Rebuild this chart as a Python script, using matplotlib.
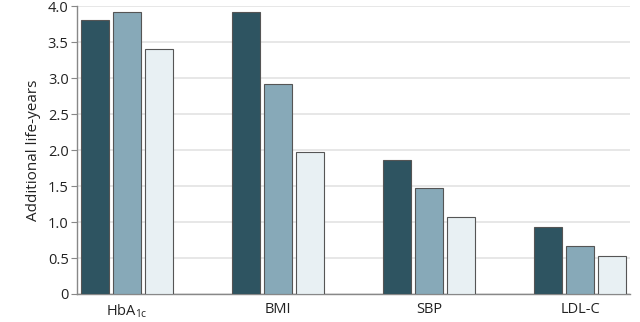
import numpy as np
import matplotlib
matplotlib.use("Agg")
import matplotlib.pyplot as plt

plt.rcParams['font.family'] = ['Open Sans', 'DejaVu Sans']
plt.rcParams['mathtext.fontset'] = 'custom'
plt.rcParams['mathtext.rm'] = 'Open Sans'

categories = ["HbA$_{1\\mathrm{c}}$", "BMI", "SBP", "LDL-C"]
series1 = [3.81, 3.92, 1.86, 0.93]
series2 = [3.92, 2.92, 1.47, 0.67]
series3 = [3.40, 1.97, 1.07, 0.53]
yticks = [0, 0.5, 1.0, 1.5, 2.0, 2.5, 3.0, 3.5, 4.0]
ytick_labels = ["0", "0.5", "1.0", "1.5", "2.0", "2.5", "3.0", "3.5", "4.0"]

colors = ["#2e5461", "#87a9b8", "#e8f0f3"]

fig = plt.figure(figsize=(6.4, 3.22), dpi=100)
ax = fig.add_axes([0.1203, 0.087, 0.864, 0.894])

x = np.arange(len(categories))
w = 0.185
pitch = 0.212
for i, (vals, c) in enumerate(zip([series1, series2, series3], colors)):
    ax.bar(x + (i - 1) * pitch, vals, width=w, color=c, edgecolor="#555555",
           linewidth=0.8, zorder=3)

ax.set_xlim(-0.33, 3.33)
ax.set_ylim(0, 4.0)
ax.set_yticks(yticks)
ax.set_yticklabels(ytick_labels, fontsize=10.5, color="#222222")
ax.set_xticks(x)
ax.set_xticklabels(categories, fontsize=10.5, color="#222222")
ax.tick_params(axis="x", length=0, pad=6)
ax.tick_params(axis="y", length=4, color="#888888", pad=2)
ax.yaxis.grid(True, color="#e3e3e3", linewidth=1.2, zorder=0)
ax.set_axisbelow(True)
for s in ["top", "right"]:
    ax.spines[s].set_visible(False)
for s in ["left", "bottom"]:
    ax.spines[s].set_color("#888888")
    ax.spines[s].set_linewidth(1.0)
ax.set_ylabel("Additional life-years", fontsize=11, color="#222222", labelpad=5)

fig.savefig("out.png", dpi=100)
